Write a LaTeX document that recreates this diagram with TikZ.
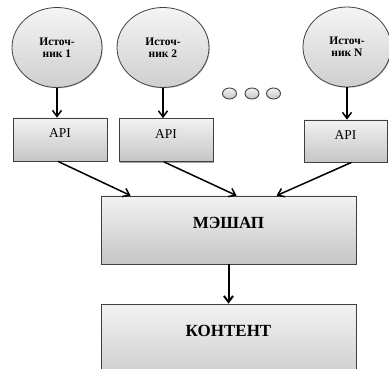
\documentclass[tikz,border=0pt]{standalone}
\usepackage{fontspec}
\setmainfont{Liberation Serif}
\usetikzlibrary{shapes.geometric,arrows.meta,shadows,calc}

\tikzset{
  grayfill/.style={top color=gray!10, bottom color=gray!45, draw=black!75, line width=0.8pt},
  srcnode/.style={grayfill, top color=gray!8, bottom color=gray!38, ellipse,
    minimum width=90pt, minimum height=80pt, inner sep=0pt,
    align=center, font=\fontsize{11.5}{12}\selectfont\bfseries,
    drop shadow={shadow xshift=0.8pt, shadow yshift=-0.8pt, fill=black!40, opacity=0.6}},
  dotnode/.style={grayfill, ellipse, minimum width=14pt, minimum height=11pt, inner sep=0pt, line width=0.9pt},
  boxnode/.style={grayfill, rectangle, inner sep=0pt,
    drop shadow={shadow xshift=1.3pt, shadow yshift=-1.3pt, fill=black!45, opacity=0.8}},
  apitext/.style={font=\fontsize{13.5}{15}\selectfont},
  bigtext/.style={font=\fontsize{17}{19}\selectfont\bfseries},
  link/.style={line width=1.5pt, -{Straight Barb[length=6pt,width=9pt]}},
}

\begin{document}
\begin{tikzpicture}[x=1pt, y=-1pt]
  \useasboundingbox (0,0) rectangle (389,369);

  % data sources
  \node[srcnode] (src1) at (57,47.5) {Источ-\\ник 1};
  \node[srcnode, minimum width=92pt] (src2) at (163,47.5) {Источ-\\ник 2};
  \node[srcnode, minimum width=88pt] (srcN) at (347,47) {Источ-\\ник N};

  % ellipsis between sources
  \node[dotnode] (d1) at (229.5,93.5) {};
  \node[dotnode] (d2) at (252,93.5) {};
  \node[dotnode] (d3) at (273.5,93.5) {};

  % API layer
  \node[boxnode, minimum width=94pt, minimum height=43pt] (api1) at (60,139.5) {};
  \node[boxnode, minimum width=94pt, minimum height=43pt] (api2) at (166,140) {};
  \node[boxnode, minimum width=83pt, minimum height=42pt] (apiN) at (345.5,141) {};
  \node[apitext] (api1t) at ([yshift=6pt]api1.center) {API};
  \node[apitext] (api2t) at ([yshift=6pt]api2.center) {API};
  \node[apitext] (apiNt) at ([yshift=6pt]apiN.center) {API};

  % mashup and content
  \node[boxnode, minimum width=255pt, minimum height=68pt] (mash) at (228.5,230) {};
  \node[bigtext] (masht) at ([yshift=7pt]mash.center) {МЭШАП};
  \node[boxnode, minimum width=255pt, minimum height=90pt] (cont) at (228.5,349) {};
  \node[bigtext] (contt) at (228.5,331) {КОНТЕНТ};

  % connectors
  \draw[link] (src1.south) -- (src1.south |- api1.north);
  \draw[link] (src2.south) -- (src2.south |- api2.north);
  \draw[link] (srcN.south) -- (srcN.south |- apiN.north);
  \draw[link] ([xshift=-2pt]api1.south) -- ([xshift=30pt]mash.north west);
  \draw[link] ([xshift=-2pt]api2.south) -- ([xshift=136pt]mash.north west);
  \draw[link] ([xshift=6pt]apiN.south) -- ([xshift=176pt]mash.north west);
  \draw[link, line width=2pt] (mash.south) -- (cont.north);
\end{tikzpicture}
\end{document}
